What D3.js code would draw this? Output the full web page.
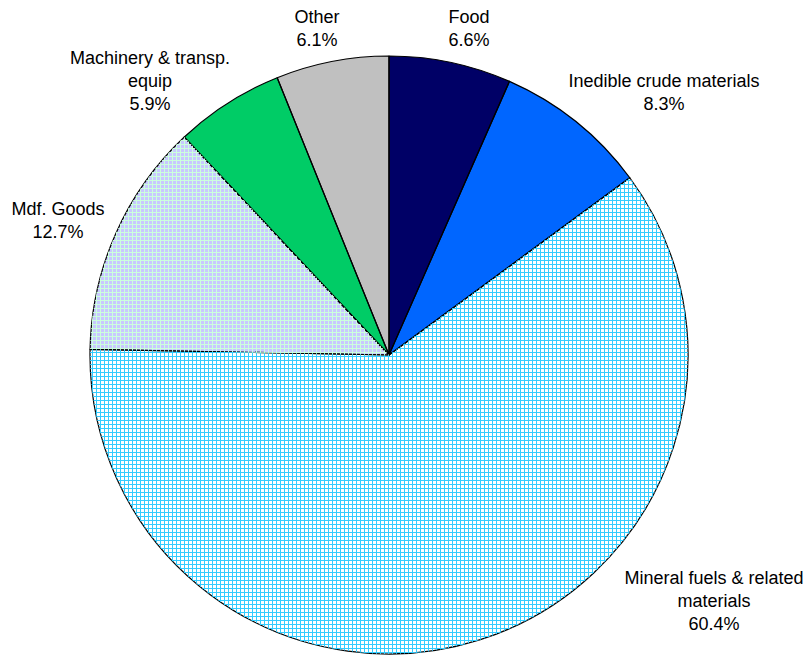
<!DOCTYPE html>
<html>
<head>
<meta charset="utf-8">
<script src="https://cdn.jsdelivr.net/npm/d3@7"></script>
<style>
  html, body { margin: 0; padding: 0; background: #fff; }
  svg { display: block; }
  text { font-family: "Liberation Sans", Arial, sans-serif; font-size: 18px; fill: #000; }
</style>
</head>
<body>
<svg id="chart" width="809" height="655"></svg>
<script>
// ---- data ----
const categories = ["Food", "Inedible crude materials", "Mineral fuels & related materials", "Mdf. Goods", "Machinery & transp. equip", "Other"];
const values = [6.6, 8.3, 60.4, 12.7, 5.9, 6.1];
const labelLines = [
  ["Food"],
  ["Inedible crude materials"],
  ["Mineral fuels & related", "materials"],
  ["Mdf. Goods"],
  ["Machinery & transp.", "equip"],
  ["Other"]
];

// ---- layout / style ----
const cx = 389, cy = 355, radius = 299;
const fills = ["#000066", "#0066FF", "#FFFFFF", "#C8C8FF", "#00CC66", "#C0C0C0"];
const gridColors = [null, null, "#33CCFF", "#CCFFDD", null, null];
const gridStep = 4;
// label block anchor: centre x and first baseline y
const labelPos = [
  [469, 22.5], [664, 86.5], [714, 584], [58, 215], [150, 64], [317, 22.5]
];
const lineH = 23;

const svg = d3.select("#chart");
const defs = svg.append("defs");

const pie = d3.pie().sort(null).value(d => d).startAngle(0).endAngle(2 * Math.PI);
const arcs = pie(values);
const arc = d3.arc().innerRadius(0).outerRadius(radius);

const g = svg.append("g").attr("transform", `translate(${cx},${cy})`);

// base fills
g.selectAll("path.fill")
  .data(arcs)
  .join("path")
  .attr("class", "fill")
  .attr("d", arc)
  .attr("fill", (d, i) => fills[i]);

// grid hatching clipped to slice
arcs.forEach((d, i) => {
  if (!gridColors[i]) return;
  const id = "clip" + i;
  defs.append("clipPath").attr("id", id)
    .append("path").attr("transform", `translate(${cx},${cy})`).attr("d", arc(d));
  const hg = svg.append("g").attr("clip-path", `url(#${id})`)
    .attr("shape-rendering", "crispEdges");
  const x0 = cx - radius - 4, x1 = cx + radius + 4;
  const y0 = cy - radius - 4, y1 = cy + radius + 4;
  const xs = d3.range(Math.floor(x0 / gridStep) * gridStep, x1, gridStep);
  const ys = d3.range(Math.floor(y0 / gridStep) * gridStep, y1, gridStep);
  hg.selectAll("rect.v").data(xs).join("rect").attr("class", "v")
    .attr("x", x => x).attr("y", y0).attr("width", 1).attr("height", y1 - y0)
    .attr("fill", gridColors[i]);
  hg.selectAll("rect.h").data(ys).join("rect").attr("class", "h")
    .attr("x", x0).attr("y", y => y).attr("width", x1 - x0).attr("height", 1)
    .attr("fill", gridColors[i]);
});

// outlines
g.selectAll("path.outline")
  .data(arcs)
  .join("path")
  .attr("class", "outline")
  .attr("d", arc)
  .attr("fill", "none")
  .attr("stroke", "#000")
  .attr("stroke-width", 1.2)
  .attr("stroke-linejoin", "round");

const labels = svg.append("g");
arcs.forEach((d, i) => {
  const t = labels.append("text")
    .attr("text-anchor", "middle")
    .attr("x", labelPos[i][0])
    .attr("y", labelPos[i][1]);
  const lines = labelLines[i].concat([d3.format(".1f")(values[i]) + "%"]);
  lines.forEach((ln, k) => {
    t.append("tspan")
      .attr("x", labelPos[i][0])
      .attr("dy", k === 0 ? 0 : lineH)
      .text(ln);
  });
});
</script>
</body>
</html>
